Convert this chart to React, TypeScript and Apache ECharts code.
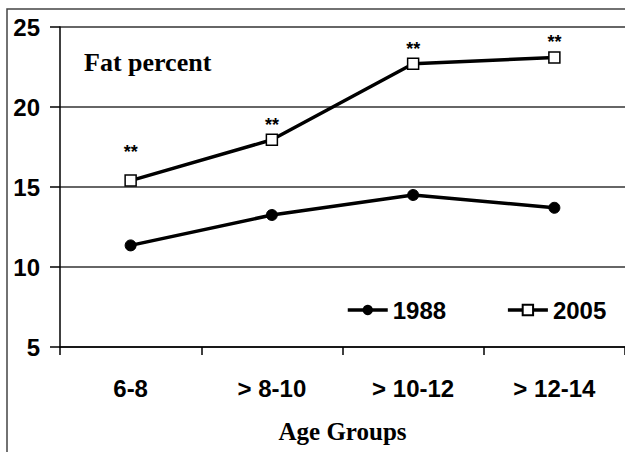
import React, { useEffect, useRef } from "react";
import * as echarts from "echarts";

const categories = ["6-8", "> 8-10", "> 10-12", "> 12-14"];
const values1988 = [11.35, 13.25, 14.5, 13.7];
const values2005 = [15.4, 17.95, 22.7, 23.1];
const starLabels = ["**", "**", "**", "**"];
const starDistances = [13, 0, 0, 0];

const SANS = "'Liberation Sans', Arial, sans-serif";
const SERIF = "'Liberation Serif', 'Times New Roman', serif";

export default function App() {
  const ref = useRef<HTMLDivElement>(null);
  useEffect(() => {
    if (!ref.current) return;
    const chart = echarts.init(ref.current, undefined, { renderer: "svg" });
    chart.setOption({
      animation: false,
      backgroundColor: "#ffffff",
      grid: { left: 60, top: 27, right: -11, bottom: 105, containLabel: false },
      legend: {
        left: 341,
        top: 293,
        itemWidth: 40,
        itemHeight: 13,
        itemGap: 60,
        lineStyle: { width: 3.5, color: "#000" },
        textStyle: { fontFamily: SANS, fontWeight: "bold", fontSize: 24, color: "#000" },
        data: ["1988", "2005"],
      },
      xAxis: {
        type: "category",
        data: categories,
        boundaryGap: true,
        name: "Age Groups",
        nameLocation: "middle",
        nameGap: 72,
        nameTextStyle: { fontFamily: SERIF, fontWeight: "bold", fontSize: 25, color: "#000" },
        axisLine: { show: true, lineStyle: { color: "#000", width: 1.5 } },
        axisTick: { show: true, length: 8, lineStyle: { color: "#000", width: 1.5 } },
        axisLabel: { margin: 29, fontFamily: SANS, fontWeight: "bold", fontSize: 24, color: "#000" },
        splitLine: { show: false },
      },
      yAxis: {
        type: "value",
        min: 5,
        max: 25,
        interval: 5,
        axisLine: { show: true, lineStyle: { color: "#000", width: 1.5 } },
        axisTick: { show: true, length: 10, lineStyle: { color: "#000", width: 1.5 } },
        axisLabel: { margin: 20, fontFamily: SANS, fontWeight: "bold", fontSize: 24, color: "#000" },
        splitLine: { show: true, lineStyle: { color: "#333", width: 1.5 } },
      },
      graphic: [
        {
          type: "rect",
          shape: { x: 7, y: 9, width: 700, height: 500 },
          style: { fill: "none", stroke: "#444", lineWidth: 1.5 },
          z: -1,
        },
        {
          type: "text",
          x: 84,
          y: 62,
          style: {
            text: "Fat percent",
            font: "bold 26px " + SERIF,
            fill: "#000",
            verticalAlign: "middle",
            align: "left",
          },
        },
      ],
      series: [
        {
          name: "1988",
          type: "line",
          data: values1988,
          symbol: "circle",
          symbolSize: 11,
          lineStyle: { color: "#000", width: 3.5 },
          itemStyle: { color: "#000", borderColor: "#000" },
        },
        {
          name: "2005",
          type: "line",
          data: values2005.map((v, i) => ({
            value: v,
            label: { distance: starDistances[i], formatter: starLabels[i] },
          })),
          symbol: "rect",
          symbolSize: 11,
          lineStyle: { color: "#000", width: 3.5 },
          itemStyle: { color: "#fff", borderColor: "#000", borderWidth: 1.5 },
          label: {
            show: true,
            position: "top",
            fontFamily: SANS,
            fontWeight: "bold",
            fontSize: 18,
            color: "#000",
          },
        },
      ],
    });
    return () => chart.dispose();
  }, []);
  return (
    <div
      style={{
        position: "fixed",
        left: 0,
        top: 0,
        width: 625,
        height: 452,
        overflow: "hidden",
        background: "#fff",
      }}
    >
      <div ref={ref} style={{ width: 625, height: 452 }} />
    </div>
  );
}
